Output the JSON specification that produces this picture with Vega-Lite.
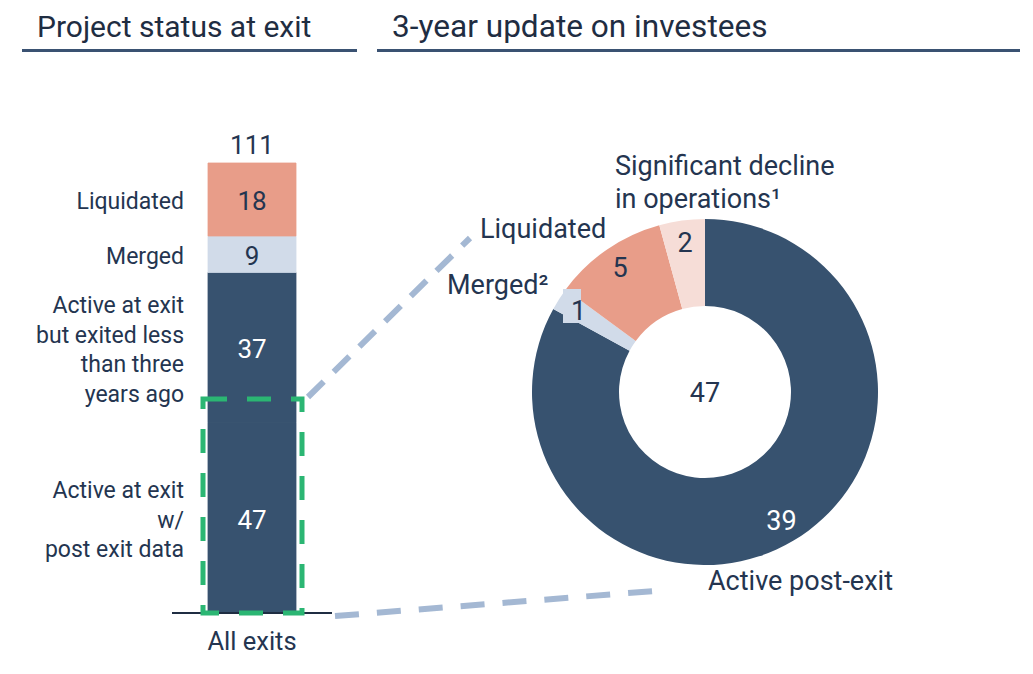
{
  "$schema": "https://vega.github.io/schema/vega-lite/v6.json",
  "width": 1033,
  "height": 674,
  "autosize": {"type": "fit", "contains": "padding"},
  "padding": 0,
  "background": "white",
  "config": {
    "view": {"stroke": null},
    "axis": {"disable": true},
    "font": "Roboto",
    "text": {"font": "Roboto", "color": "#243550"}
  },
  "data": {"values": [{}]},
  "datasets": {
    "exits": [
      {"order": 1, "group": "Active", "value": 47, "label": "Active at exit\nw/\npost exit data"},
      {"order": 2, "group": "Active", "value": 37, "label": "Active at exit\nbut exited less\nthan three\nyears ago"},
      {"order": 3, "group": "Merged", "value": 9, "label": "Merged"},
      {"order": 4, "group": "Liquidated", "value": 18, "label": "Liquidated"}
    ],
    "update": [
      {"order": 1, "group": "Active", "value": 39, "label": "Active post-exit"},
      {"order": 2, "group": "Merged", "value": 1, "label": "Merged²"},
      {"order": 3, "group": "Liquidated", "value": 5, "label": "Liquidated"},
      {"order": 4, "group": "Decline", "value": 2, "label": "Significant decline\nin operations¹"}
    ]
  },
  "layer": [
    {
      "data": {"name": "exits"},
      "transform": [
        {"stack": "value", "groupby": [], "sort": [{"field": "order", "order": "ascending"}], "as": ["y0", "y1"]}
      ],
      "mark": {"type": "rect", "strokeWidth": 0.8},
      "encoding": {
        "x": {"datum": 208, "type": "quantitative", "scale": {"domain": [0, 1033], "nice": false, "zero": false}},
        "x2": {"datum": 296},
        "y": {"field": "y0", "type": "quantitative", "scale": {"domain": [-15.045, 151.207], "nice": false, "zero": false}},
        "y2": {"field": "y1"},
        "color": {"field": "group", "type": "nominal", "legend": null,
          "scale": {"domain": ["Active", "Merged", "Liquidated", "Decline"], "range": ["#37526f", "#d1dbe9", "#e89d89", "#f6ddd7"]}},
        "stroke": {"field": "group", "type": "nominal", "legend": null,
          "scale": {"domain": ["Active", "Merged", "Liquidated", "Decline"], "range": ["#37526f", "#d1dbe9", "#e89d89", "#f6ddd7"]}}
      }
    },
    {
      "mark": {"type": "rule", "color": "#1f2d42", "strokeWidth": 2},
      "encoding": {
        "x": {"datum": 172, "type": "quantitative", "scale": {"domain": [0, 1033], "nice": false, "zero": false}},
        "x2": {"datum": 332},
        "y": {"datum": 0, "type": "quantitative", "scale": {"domain": [-15.045, 151.207], "nice": false, "zero": false}}
      }
    },
    {
      "data": {"name": "exits"},
      "transform": [
        {"stack": "value", "groupby": [], "sort": [{"field": "order", "order": "ascending"}], "as": ["y0", "y1"]},
        {"calculate": "(datum.y0 + datum.y1) / 2", "as": "ymid"}
      ],
      "mark": {"type": "text", "fontSize": 26, "align": "center", "baseline": "middle", "dy": 3},
      "encoding": {
        "x": {"datum": 252, "type": "quantitative", "scale": {"domain": [0, 1033], "nice": false, "zero": false}},
        "y": {"field": "ymid", "type": "quantitative", "scale": {"domain": [-15.045, 151.207], "nice": false, "zero": false}},
        "text": {"field": "value", "type": "quantitative"},
        "color": {"condition": {"test": "datum.group === 'Active'", "value": "#ffffff"}, "value": "#243550"}
      }
    },
    {
      "data": {"name": "exits"},
      "transform": [
        {"stack": "value", "groupby": [], "sort": [{"field": "order", "order": "ascending"}], "as": ["y0", "y1"]},
        {"calculate": "(datum.y0 + datum.y1) / 2", "as": "ymid"},
        {"filter": "datum.order >= 3"}
      ],
      "mark": {"type": "text", "fontSize": 23, "align": "right", "baseline": "middle", "dy": 3},
      "encoding": {
        "x": {"datum": 184, "type": "quantitative", "scale": {"domain": [0, 1033], "nice": false, "zero": false}},
        "y": {"field": "ymid", "type": "quantitative", "scale": {"domain": [-15.045, 151.207], "nice": false, "zero": false}},
        "text": {"field": "label", "type": "nominal"}
      }
    },
    {
      "data": {"name": "exits"},
      "transform": [
        {"stack": "value", "groupby": [], "sort": [{"field": "order", "order": "ascending"}], "as": ["y0", "y1"]},
        {"calculate": "(datum.y0 + datum.y1) / 2", "as": "ymid"},
        {"filter": "datum.order === 2"}
      ],
      "mark": {"type": "text", "fontSize": 23, "align": "right", "baseline": "middle", "lineBreak": "\n", "lineHeight": 29.5, "dy": -41},
      "encoding": {
        "x": {"datum": 184, "type": "quantitative", "scale": {"domain": [0, 1033], "nice": false, "zero": false}},
        "y": {"field": "ymid", "type": "quantitative", "scale": {"domain": [-15.045, 151.207], "nice": false, "zero": false}},
        "text": {"field": "label", "type": "nominal"}
      }
    },
    {
      "data": {"name": "exits"},
      "transform": [
        {"stack": "value", "groupby": [], "sort": [{"field": "order", "order": "ascending"}], "as": ["y0", "y1"]},
        {"calculate": "(datum.y0 + datum.y1) / 2", "as": "ymid"},
        {"filter": "datum.order === 1"}
      ],
      "mark": {"type": "text", "fontSize": 23, "align": "right", "baseline": "middle", "lineBreak": "\n", "lineHeight": 29.5, "dy": -26.5},
      "encoding": {
        "x": {"datum": 184, "type": "quantitative", "scale": {"domain": [0, 1033], "nice": false, "zero": false}},
        "y": {"field": "ymid", "type": "quantitative", "scale": {"domain": [-15.045, 151.207], "nice": false, "zero": false}},
        "text": {"field": "label", "type": "nominal"}
      }
    },
    {
      "data": {"name": "exits"},
      "mark": {"type": "text", "fontSize": 26, "align": "center", "baseline": "middle", "dy": -17},
      "encoding": {
        "x": {"datum": 252, "type": "quantitative", "scale": {"domain": [0, 1033], "nice": false, "zero": false}},
        "y": {"aggregate": "sum", "field": "value", "type": "quantitative", "scale": {"domain": [-15.045, 151.207], "nice": false, "zero": false}},
        "text": {"aggregate": "sum", "field": "value", "type": "quantitative"}
      }
    },
    {
      "mark": {"type": "rect", "fill": "transparent", "stroke": "#2bb673", "strokeWidth": 5, "strokeDash": [24, 20]},
      "encoding": {
        "x": {"datum": 203, "type": "quantitative", "scale": {"domain": [0, 1033], "nice": false, "zero": false}},
        "x2": {"datum": 302},
        "y": {"datum": 0, "type": "quantitative", "scale": {"domain": [-15.045, 151.207], "nice": false, "zero": false}},
        "y2": {"datum": 52.79}
      }
    },
    {
      "mark": {"type": "rule", "color": "#a4b8d3", "strokeWidth": 6, "strokeDash": [22, 14], "strokeCap": "butt"},
      "encoding": {
        "x": {"datum": 308, "type": "quantitative", "scale": {"domain": [0, 1033], "nice": false, "zero": false}},
        "x2": {"datum": 470},
        "y": {"datum": 53.28, "type": "quantitative", "scale": {"domain": [-15.045, 151.207], "nice": false, "zero": false}},
        "y2": {"datum": 92.5}
      }
    },
    {
      "mark": {"type": "rule", "color": "#a4b8d3", "strokeWidth": 6, "strokeDash": [24, 18], "strokeCap": "butt"},
      "encoding": {
        "x": {"datum": 335, "type": "quantitative", "scale": {"domain": [0, 1033], "nice": false, "zero": false}},
        "x2": {"datum": 655},
        "y": {"datum": -0.74, "type": "quantitative", "scale": {"domain": [-15.045, 151.207], "nice": false, "zero": false}},
        "y2": {"datum": 5.43}
      }
    },
    {
      "data": {"name": "update"},
      "mark": {"type": "arc", "innerRadius": 86, "outerRadius": 173},
      "encoding": {
        "x": {"datum": 705, "type": "quantitative", "scale": {"domain": [0, 1033], "nice": false, "zero": false}},
        "y": {"datum": 54.51, "type": "quantitative", "scale": {"domain": [-15.045, 151.207], "nice": false, "zero": false}},
        "theta": {"field": "value", "type": "quantitative", "stack": true},
        "order": {"field": "order", "type": "quantitative"},
        "color": {"field": "group", "type": "nominal", "legend": null,
          "scale": {"domain": ["Active", "Merged", "Liquidated", "Decline"], "range": ["#37526f", "#d1dbe9", "#e89d89", "#f6ddd7"]}}
      }
    },
    {
      "mark": {"type": "rect", "fill": "#d1dbe9"},
      "encoding": {
        "x": {"datum": 563, "type": "quantitative", "scale": {"domain": [0, 1033], "nice": false, "zero": false}},
        "x2": {"datum": 581},
        "y": {"datum": 71.53, "type": "quantitative", "scale": {"domain": [-15.045, 151.207], "nice": false, "zero": false}},
        "y2": {"datum": 79.92}
      }
    },
    {
      "data": {"name": "update"},
      "mark": {"type": "text", "radius": 150, "fontSize": 27, "align": "center", "baseline": "middle", "dy": 1},
      "encoding": {
        "x": {"datum": 705, "type": "quantitative", "scale": {"domain": [0, 1033], "nice": false, "zero": false}},
        "y": {"datum": 54.51, "type": "quantitative", "scale": {"domain": [-15.045, 151.207], "nice": false, "zero": false}},
        "theta": {"field": "value", "type": "quantitative", "stack": true},
        "order": {"field": "order", "type": "quantitative"},
        "detail": {"field": "group", "type": "nominal"},
        "text": {"field": "value", "type": "quantitative"},
        "color": {"condition": {"test": "datum.group === 'Active'", "value": "#ffffff"}, "value": "#243550"}
      }
    },
    {
      "data": {"name": "update"},
      "mark": {"type": "text", "fontSize": 27, "align": "center", "baseline": "middle", "dy": 2},
      "encoding": {
        "x": {"datum": 705, "type": "quantitative", "scale": {"domain": [0, 1033], "nice": false, "zero": false}},
        "y": {"datum": 54.51, "type": "quantitative", "scale": {"domain": [-15.045, 151.207], "nice": false, "zero": false}},
        "text": {"aggregate": "sum", "field": "value", "type": "quantitative"}
      }
    },
    {
      "data": {"name": "update"},
      "transform": [{"filter": "datum.group === 'Decline'"}],
      "mark": {"type": "text", "fontSize": 27, "align": "left", "baseline": "middle", "lineBreak": "\n", "lineHeight": 33, "dy": 2},
      "encoding": {
        "x": {"datum": 615, "type": "quantitative", "scale": {"domain": [0, 1033], "nice": false, "zero": false}},
        "y": {"datum": 110.51, "type": "quantitative", "scale": {"domain": [-15.045, 151.207], "nice": false, "zero": false}},
        "text": {"field": "label", "type": "nominal"}
      }
    },
    {
      "data": {"name": "update"},
      "transform": [{"filter": "datum.group === 'Liquidated'"}],
      "mark": {"type": "text", "fontSize": 27, "align": "left", "baseline": "middle", "dy": 2},
      "encoding": {
        "x": {"datum": 480, "type": "quantitative", "scale": {"domain": [0, 1033], "nice": false, "zero": false}},
        "y": {"datum": 94.97, "type": "quantitative", "scale": {"domain": [-15.045, 151.207], "nice": false, "zero": false}},
        "text": {"field": "label", "type": "nominal"}
      }
    },
    {
      "data": {"name": "update"},
      "transform": [{"filter": "datum.group === 'Merged'"}],
      "mark": {"type": "text", "fontSize": 27, "align": "left", "baseline": "middle", "dy": 2},
      "encoding": {
        "x": {"datum": 447, "type": "quantitative", "scale": {"domain": [0, 1033], "nice": false, "zero": false}},
        "y": {"datum": 81.15, "type": "quantitative", "scale": {"domain": [-15.045, 151.207], "nice": false, "zero": false}},
        "text": {"field": "label", "type": "nominal"}
      }
    },
    {
      "data": {"name": "update"},
      "transform": [{"filter": "datum.group === 'Active'"}],
      "mark": {"type": "text", "fontSize": 27, "align": "left", "baseline": "middle", "dy": 2},
      "encoding": {
        "x": {"datum": 708, "type": "quantitative", "scale": {"domain": [0, 1033], "nice": false, "zero": false}},
        "y": {"datum": 8.14, "type": "quantitative", "scale": {"domain": [-15.045, 151.207], "nice": false, "zero": false}},
        "text": {"field": "label", "type": "nominal"}
      }
    },
    {
      "mark": {"type": "text", "text": "All exits", "fontSize": 25.5, "align": "center", "baseline": "middle", "dy": 2},
      "encoding": {
        "x": {"datum": 252, "type": "quantitative", "scale": {"domain": [0, 1033], "nice": false, "zero": false}},
        "y": {"datum": -6.66, "type": "quantitative", "scale": {"domain": [-15.045, 151.207], "nice": false, "zero": false}}
      }
    },
    {
      "mark": {"type": "text", "text": "Project status at exit", "fontSize": 30, "align": "left", "baseline": "middle", "color": "#1f2d42", "dy": 3},
      "encoding": {
        "x": {"datum": 37, "type": "quantitative", "scale": {"domain": [0, 1033], "nice": false, "zero": false}},
        "y": {"datum": 145.04, "type": "quantitative", "scale": {"domain": [-15.045, 151.207], "nice": false, "zero": false}}
      }
    },
    {
      "mark": {"type": "text", "text": "3-year update on investees", "fontSize": 31.6, "align": "left", "baseline": "middle", "color": "#1f2d42", "dy": 3},
      "encoding": {
        "x": {"datum": 392, "type": "quantitative", "scale": {"domain": [0, 1033], "nice": false, "zero": false}},
        "y": {"datum": 145.04, "type": "quantitative", "scale": {"domain": [-15.045, 151.207], "nice": false, "zero": false}}
      }
    },
    {
      "mark": {"type": "rule", "color": "#3a5272", "strokeWidth": 3},
      "encoding": {
        "x": {"datum": 22, "type": "quantitative", "scale": {"domain": [0, 1033], "nice": false, "zero": false}},
        "x2": {"datum": 357},
        "y": {"datum": 138.75, "type": "quantitative", "scale": {"domain": [-15.045, 151.207], "nice": false, "zero": false}}
      }
    },
    {
      "mark": {"type": "rule", "color": "#3a5272", "strokeWidth": 3},
      "encoding": {
        "x": {"datum": 377, "type": "quantitative", "scale": {"domain": [0, 1033], "nice": false, "zero": false}},
        "x2": {"datum": 1020},
        "y": {"datum": 138.75, "type": "quantitative", "scale": {"domain": [-15.045, 151.207], "nice": false, "zero": false}}
      }
    }
  ]
}
